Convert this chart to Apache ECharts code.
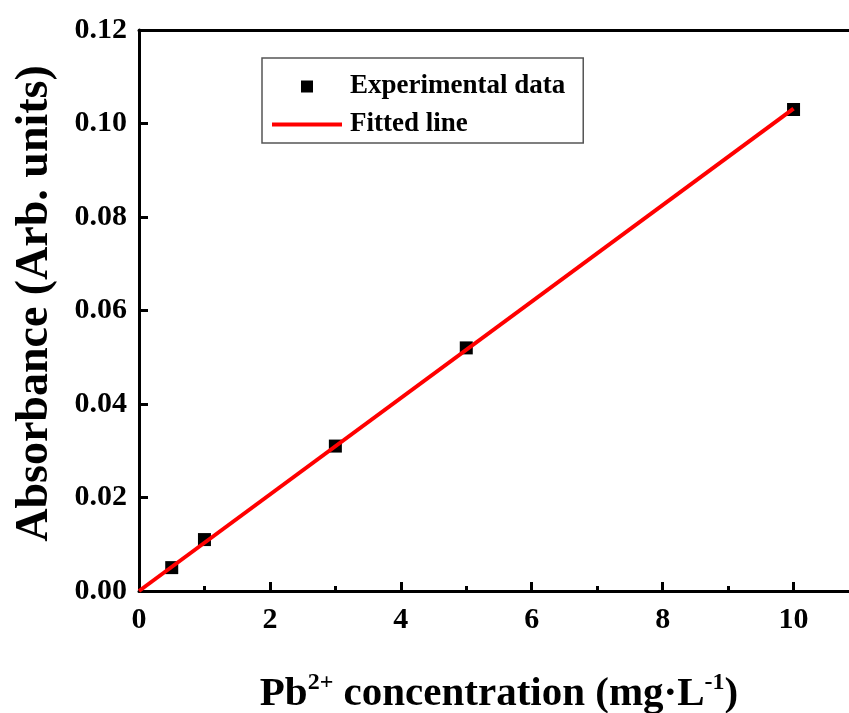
<!DOCTYPE html>
<html lang="en">

<head>
    <meta charset="UTF-8">
    <title>Absorbance calibration</title>
    <script src="https://cdn.jsdelivr.net/npm/echarts@6/dist/echarts.min.js"></script>
    <style>
        body {
            margin: 0;
            background: #fff;
        }

        .chart {
            width: 849px;
            height: 713px;
        }
    </style>
</head>

<body>
    <div class="chart"></div>
</body>
<script>
    // measured points
    let concData = [0.5, 1, 3, 5, 10]
    let absData = [0.005, 0.011, 0.031, 0.052, 0.103]
    // fitted straight line, two end points
    let fitX = [0, 10]
    let fitY = [0, 0.1032]

    let serif = '"Liberation Serif", "Times New Roman", serif'

    let mCharts = echarts.init(document.querySelector('.chart'))

    let option = {
        animation: false,
        textStyle: { fontFamily: serif },
        grid: {
            left: 139,
            top: 30,
            width: 720,
            bottom: 122,
            outerBoundsMode: 'none' // plot runs past the right edge of the picture
        },
        legend: {
            orient: 'vertical',
            left: 262,
            top: 58,
            padding: [15, 18, 5, 10],
            itemGap: 11,
            itemWidth: 70,
            itemHeight: 12,
            symbolKeepAspect: true,
            borderColor: '#555',
            borderWidth: 1.5,
            textStyle: {
                fontFamily: serif,
                fontWeight: 'bold',
                fontSize: 27,
                color: '#000',
                padding: [0, 0, 0, 3]
            },
            data: [{
                name: 'Experimental data',
                icon: 'path://M0,0h10v10h-10z'
            }, {
                name: 'Fitted line',
                icon: 'path://M0,0h70v4h-70z'
            }]
        },
        xAxis: [{
            type: 'value',
            min: 0,
            max: 11,
            interval: 2,
            name: 'Pb{sup|2+} concentration (mg·L{sup|-1})',
            nameLocation: 'middle',
            nameGap: 80,
            nameTextStyle: {
                fontFamily: serif,
                fontWeight: 'bold',
                fontSize: 41,
                color: '#000',
                rich: {
                    sup: {
                        fontFamily: serif,
                        fontWeight: 'bold',
                        fontSize: 24,
                        verticalAlign: 'top',
                        padding: [0, 0, 22, 0]
                    }
                }
            },
            axisLine: { lineStyle: { color: '#000', width: 3 } },
            axisTick: { inside: true, length: 9, lineStyle: { color: '#000', width: 3 } },
            minorTick: { show: true, splitNumber: 2, length: 5, lineStyle: { color: '#000', width: 3 } },
            splitLine: { show: false },
            axisLabel: {
                margin: 14,
                fontFamily: serif,
                fontWeight: 'bold',
                fontSize: 30,
                color: '#000',
                showMaxLabel: false
            }
        }, {
            // top frame line only
            type: 'value',
            position: 'top',
            min: 0,
            max: 11,
            axisLine: { show: true, lineStyle: { color: '#000', width: 3 } },
            axisTick: { show: false },
            axisLabel: { show: false },
            splitLine: { show: false }
        }],
        yAxis: {
            type: 'value',
            min: 0,
            max: 0.12,
            interval: 0.02,
            name: 'Absorbance (Arb. units)',
            nameLocation: 'middle',
            nameGap: 81,
            nameTextStyle: {
                fontFamily: serif,
                fontWeight: 'bold',
                fontSize: 46,
                color: '#000',
                padding: [0, 0, 0, 14]
            },
            axisLine: { lineStyle: { color: '#000', width: 3 } },
            axisTick: { inside: true, length: 9, lineStyle: { color: '#000', width: 3 } },
            splitLine: { show: false },
            axisLabel: {
                margin: 12,
                fontFamily: serif,
                fontWeight: 'bold',
                fontSize: 30,
                color: '#000',
                formatter: function (v) {
                    return v.toFixed(2)
                }
            }
        },
        series: [{
            name: 'Fitted line',
            type: 'line',
            symbol: 'none',
            lineStyle: { color: '#ff0000', width: 4 },
            itemStyle: { color: '#ff0000' },
            data: fitX.map((x, i) => [x, fitY[i]]),
            z: 3
        }, {
            name: 'Experimental data',
            type: 'scatter',
            symbol: 'rect',
            symbolSize: 13,
            itemStyle: { color: '#000', opacity: 1 },
            data: concData.map((x, i) => [x, absData[i]]),
            z: 2
        }]
    }
    mCharts.setOption(option)
</script>

</html>
